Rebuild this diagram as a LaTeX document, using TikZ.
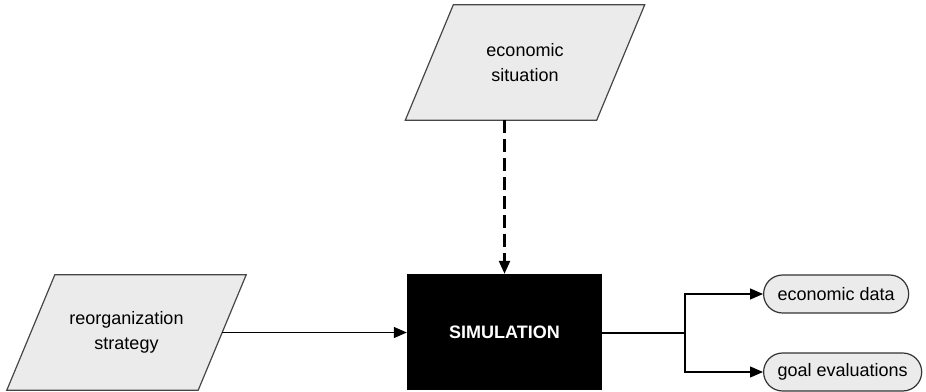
\documentclass[tikz,border=0pt]{standalone}
\usepackage{fontspec}
\setmainfont{Liberation Sans}
\usetikzlibrary{arrows.meta,positioning,backgrounds}
\definecolor{boxgray}{RGB}{235,235,235}
\definecolor{edgegray}{RGB}{70,70,70}

\begin{document}
\begin{tikzpicture}[x=1pt,y=-1pt,
  >={Triangle[length=13pt,width=11pt]},
  inbox/.style={rectangle, minimum width=191pt, minimum height=115pt, align=center,
    font=\fontsize{18}{25}\selectfont},
  pgram/.style={draw=edgegray, line width=1.2pt, fill=boxgray, line join=miter},
  simbox/.style={rectangle, fill=black, minimum width=195pt, minimum height=116pt,
    text=white, font=\fontsize{18}{22}\selectfont\bfseries},
  outbox/.style={rectangle, rounded corners=19pt, draw=black!80, line width=1.2pt,
    fill=boxgray, minimum height=38pt, inner xsep=14pt,
    font=\fontsize{18}{22}\selectfont}]
\useasboundingbox (0,0) rectangle (926,391);

% boxes
\node [inbox] (econ) at (525,62.5) {economic\\situation};
\node [inbox] (reorg) at (126.5,332.5) {reorganization\\strategy};
\node [simbox] (sim) at (504.5,332) {SIMULATION};
\node [outbox, anchor=west] (ecodata) at (763,294) {economic data};
\node [outbox, anchor=west] (goals) at (763,372) {goal evaluations};
\coordinate (split) at (685,333);

% parallelogram outlines behind the input texts
\begin{scope}[on background layer]
\foreach \n in {econ,reorg}
  \draw [pgram] ([xshift=24pt]\n.north west) -- ([xshift=24pt]\n.north east)
    -- ([xshift=-24pt]\n.south east) -- ([xshift=-24pt]\n.south west) -- cycle;
\end{scope}

% connectors
\draw [line width=2.5pt, dash pattern=on 13pt off 6pt, ->] (sim.north |- econ.south) -- (sim.north);
\draw [line width=1.3pt, ->] (reorg.east) -- (reorg.east -| sim.west);
\draw [line width=1.3pt] (split -| sim.east) -- (split);
\draw [line width=1.3pt, ->] (split) |- (ecodata.west);
\draw [line width=1.3pt, ->] (split) |- (goals.west);
\end{tikzpicture}
\end{document}
